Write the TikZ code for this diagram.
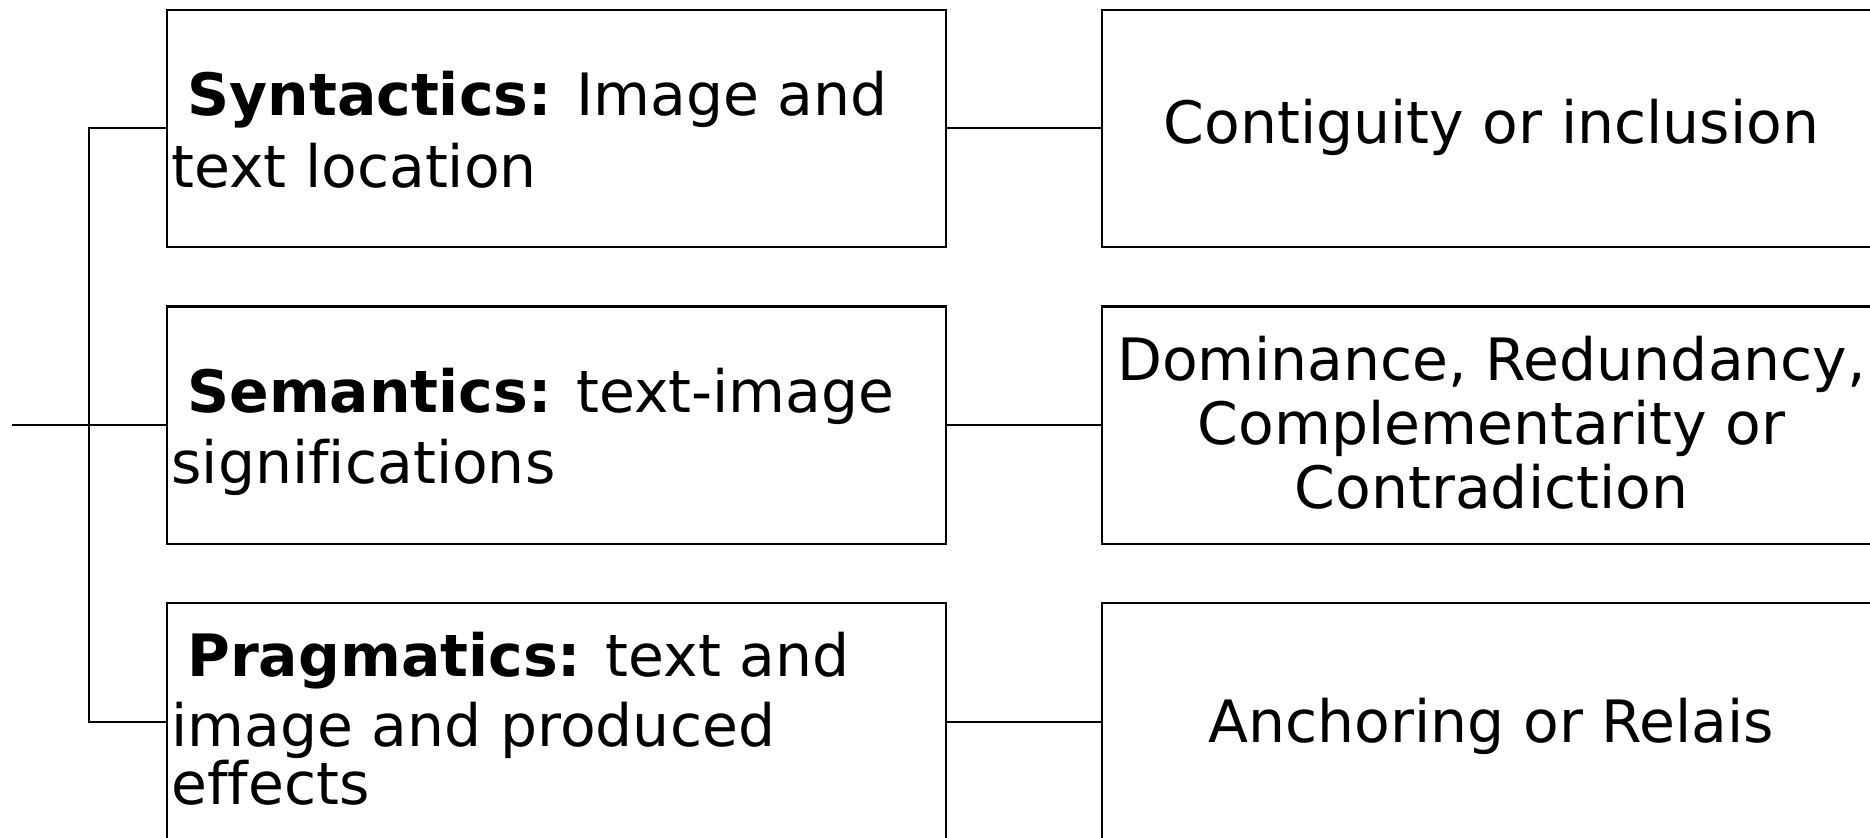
\documentclass[tikz,border=0pt]{standalone}
\usepackage{fontspec}
\setmainfont{DejaVu Sans}[Ligatures=NoCommon]
\setlength{\lineskiplimit}{-100pt}
\begin{document}
\begin{tikzpicture}[x=0.5pt,y=-0.5pt,
  box/.style={draw=black, line width=1.15pt, inner sep=0pt,
    minimum width=389.5pt, minimum height=118.65pt},
  conn/.style={draw=black, line width=1.15pt},
  lefttext/.style={anchor=base west, align=left, inner sep=0pt,
    font=\fontsize{29.2}{29.15}\selectfont},
  righttext/.style={anchor=base, align=center, inner sep=0pt,
    font=\fontsize{29.2}{32}\selectfont}]
\useasboundingbox (0,0) rectangle (1870,838);
\begin{scope}
\clip (0,0) rectangle (1870,838);
% left boxes
\node[box] (l1) at (556.5,128.35) {};
\node[box] (l2) at (556.5,425.2) {};
\node[box] (l3) at (556.5,722) {};
% right boxes
\node[box] (r1) at (1491.5,128.35) {};
\node[box] (r2) at (1491.5,425.2) {};
\node[box] (r3) at (1491.5,722) {};
% texts (anchored at the baseline of the last line)
\node[lefttext] (t1) at (171,187.7) {\hspace*{8pt}\textbf{Syntactics:} Image and\\[6.85pt]text location};
\node[lefttext] (t2) at (171,483.3) {\hspace*{8pt}\textbf{Semantics:} text-image\\[6.35pt]significations};
\node[lefttext] (t3) at (171,805) {\hspace*{8pt}\textbf{Pragmatics:} text and\\[5.85pt]image and produced\\effects};
\node[righttext] (s1) at (1491.5,143.3) {Contiguity or inclusion};
\node[righttext] (s2) at (1491.5,509) {Dominance, Redundancy,\\Complementarity or\\Contradiction};
\node[righttext] (s3) at (1491.5,742.3) {Anchoring or Relais};
% connectors
\draw[conn] (l1.east) -- (r1.west);
\draw[conn] (l2.east) -- (r2.west);
\draw[conn] (l3.east) -- (r3.west);
\coordinate (jn) at (88.7,425.2);
\coordinate (start) at (12,425.2);
\draw[conn] (l1.west) -| (jn) |- (l3.west);
\draw[conn] (start) -- (l2.west);
\end{scope}
\end{tikzpicture}
\end{document}
